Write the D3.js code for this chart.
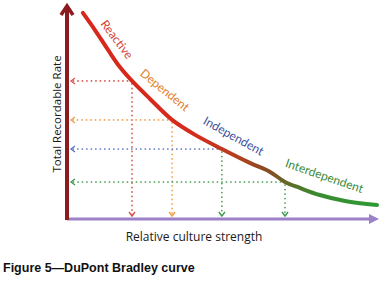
<!DOCTYPE html>
<html>
<head>
<meta charset="utf-8">
<script src="https://cdn.jsdelivr.net/npm/d3@7"></script>
<style>
  html, body { margin: 0; padding: 0; background: #fff; }
  svg { display: block; }
</style>
</head>
<body>
<div id="chart"></div>
<script>
// curve (relative culture strength 0-10, rate 0-10)
const curveX = [0.51, 0.90, 1.32, 1.70, 2.09, 2.67, 3.38, 4.12, 4.98, 5.88, 6.53, 7.01, 7.49, 8.13, 8.94, 9.97]
const curveY = [9.63, 8.83, 7.90, 7.10, 6.45, 5.61, 4.63, 3.93, 3.27, 2.62, 2.20, 1.73, 1.45, 1.12, 0.84, 0.65]

const stages = ["Reactive", "Dependent", "Independent", "Interdependent"]
const stageX = [2.09, 3.38, 4.98, 7.01]
const stageY = [6.45, 4.63, 3.27, 1.73]
const stageColors = ["#d2463c", "#e27f2c", "#3d4f9e", "#3b8c3c"]
const hLineColors = ["#d9574f", "#f0a050", "#5b73c4", "#3d9a4a"]
const vLineColors = ["#d9574f", "#f0a050", "#3d9a4a", "#3d9a4a"]

const xTitle = "Relative culture strength"
const yTitle = "Total Recordable Rate"
const caption = "Figure 5\u2014DuPont Bradley curve"

const W = 387, H = 291
const svg = d3.select("#chart").append("svg")
  .attr("width", W).attr("height", H)

const x = d3.scaleLinear().domain([0, 10]).range([67, 378])
const y = d3.scaleLinear().domain([0, 10]).range([219, 5])

// gradient of the curve: red -> brown -> green
const grad = svg.append("defs").append("linearGradient")
  .attr("id", "curveGrad")
  .attr("gradientUnits", "userSpaceOnUse")
  .attr("x1", x(0)).attr("x2", x(10)).attr("y1", 0).attr("y2", 0)
grad.selectAll("stop")
  .data([[0, "#d8261c"], [0.42, "#d42c1c"], [0.55, "#b2401e"], [0.64, "#8a4a22"], [0.72, "#5e6e28"], [0.8, "#3a8a30"], [1, "#2f9a36"]])
  .enter().append("stop")
  .attr("offset", d => d[0])
  .attr("stop-color", d => d[1])

// dotted guides
const dots = svg.append("g")
stages.forEach((s, i) => {
  const px = x(stageX[i]), py = y(stageY[i])
  dots.append("line")
    .attr("x1", px).attr("y1", py).attr("x2", x(0) + 5).attr("y2", py)
    .attr("stroke", hLineColors[i]).attr("stroke-width", 1.7)
    .attr("stroke-linecap", "round").attr("stroke-dasharray", "0.1 4.4")
  dots.append("path")
    .attr("d", `M${x(0) + 8},${py - 3} L${x(0) + 4},${py} L${x(0) + 8},${py + 3}`)
    .attr("fill", "none").attr("stroke", hLineColors[i]).attr("stroke-width", 1.3)
  dots.append("line")
    .attr("x1", px).attr("y1", py + 3).attr("x2", px).attr("y2", y(0) - 4)
    .attr("stroke", vLineColors[i]).attr("stroke-width", 1.7)
    .attr("stroke-linecap", "round").attr("stroke-dasharray", "0.1 4.4")
  dots.append("path")
    .attr("d", `M${px - 3},${y(0) - 7} L${px},${y(0) - 3} L${px + 3},${y(0) - 7}`)
    .attr("fill", "none").attr("stroke", vLineColors[i]).attr("stroke-width", 1.4)
})

// x axis (purple arrow)
svg.append("line")
  .attr("x1", x(0)).attr("y1", y(0)).attr("x2", x(10) - 6).attr("y2", y(0))
  .attr("stroke", "#9c80c8").attr("stroke-width", 3)
svg.append("path")
  .attr("d", `M${x(10) + 1},${y(0)} L${x(10) - 9},${y(0) - 5} L${x(10) - 9},${y(0) + 5} Z`)
  .attr("fill", "#9c80c8")

// y axis (dark red arrow)
svg.append("line")
  .attr("x1", x(0)).attr("y1", y(0) + 1).attr("x2", x(0)).attr("y2", y(10) + 3)
  .attr("stroke", "#8c1b1e").attr("stroke-width", 4)
svg.append("path")
  .attr("d", `M${x(0) - 6},${y(10) + 10} L${x(0)},${y(10) + 1} L${x(0) + 6},${y(10) + 10}`)
  .attr("fill", "none").attr("stroke", "#8c1b1e").attr("stroke-width", 3.5)
  .attr("stroke-linejoin", "miter")

// the curve
const line = d3.line()
  .x((d, i) => x(curveX[i]))
  .y((d, i) => y(curveY[i]))
  .curve(d3.curveCatmullRom)
svg.append("path")
  .datum(curveX)
  .attr("d", line)
  .attr("fill", "none")
  .attr("stroke", "url(#curveGrad)")
  .attr("stroke-width", 4)
  .attr("stroke-linecap", "round")

// stage labels along the curve
const labelPos = [[116, 40, 53], [164, 91, 39], [233, 137, 29], [324, 177, 19]]
stages.forEach((s, i) => {
  svg.append("text")
    .attr("transform", `translate(${labelPos[i][0]},${labelPos[i][1]}) rotate(${labelPos[i][2]})`)
    .attr("text-anchor", "middle")
    .attr("dominant-baseline", "middle")
    .attr("font-family", "Lato, 'Open Sans', sans-serif")
    .attr("font-size", 12)
    .attr("fill", stageColors[i])
    .text(s)
})

// axis titles
svg.append("text")
  .attr("transform", `translate(61,114) rotate(-90)`)
  .attr("text-anchor", "middle")
  .attr("font-family", "'Open Sans', sans-serif")
  .attr("font-size", 11.5)
  .attr("fill", "#1a1a1a")
  .text(yTitle)

svg.append("text")
  .attr("x", 194).attr("y", 241)
  .attr("text-anchor", "middle")
  .attr("font-family", "'Open Sans', sans-serif")
  .attr("font-size", 12)
  .attr("fill", "#1a1a1a")
  .text(xTitle)

svg.append("text")
  .attr("x", 3).attr("y", 272)
  .attr("font-family", "'Liberation Sans', Arial, sans-serif")
  .attr("font-weight", "bold")
  .attr("font-size", 12.5)
  .attr("fill", "#111")
  .text(caption)
</script>
</body>
</html>
